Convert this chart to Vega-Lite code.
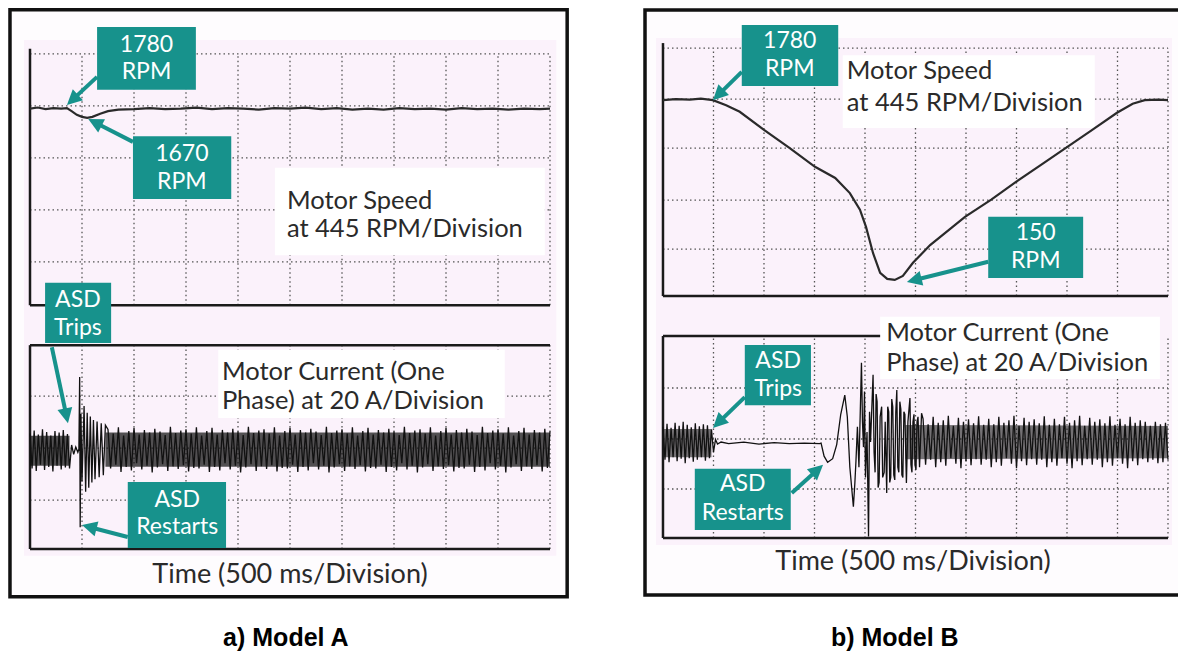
{
"$schema":"https://vega.github.io/schema/vega-lite/v6.json",
"background":"#ffffff",
"padding":0,
"spacing":0,
"config":{"view":{"stroke":null}},
"datasets":{
"leftCurrent":[{"t":0,"v":2.22},{"t":0.04,"v":1.55},{"t":0.08,"v":2.28},{"t":0.12,"v":1.5},{"t":0.16,"v":2.2},{"t":0.2,"v":1.62},{"t":0.24,"v":2.3},{"t":0.28,"v":1.52},{"t":0.32,"v":2.25},{"t":0.36,"v":1.58},{"t":0.4,"v":2.18},{"t":0.44,"v":1.49},{"t":0.48,"v":2.27},{"t":0.52,"v":1.6},{"t":0.56,"v":2.24},{"t":0.6,"v":1.53},{"t":0.64,"v":2.29},{"t":0.68,"v":1.57},{"t":0.72,"v":2.21},{"t":0.76,"v":1.55},{"t":0.8,"v":2.0},{"t":0.84,"v":1.82},{"t":0.88,"v":1.96},{"t":0.92,"v":1.86},{"t":0.94,"v":1.92},{"t":0.955,"v":3.31},{"t":0.965,"v":0.42},{"t":0.98,"v":2.6},{"t":1.0,"v":1.3},{"t":1.04,"v":2.75},{"t":1.07,"v":1.1},{"t":1.1,"v":2.62},{"t":1.13,"v":1.18},{"t":1.16,"v":2.55},{"t":1.19,"v":1.28},{"t":1.22,"v":2.48},{"t":1.25,"v":1.34},{"t":1.29,"v":2.45},{"t":1.33,"v":1.38},{"t":1.37,"v":2.42},{"t":1.41,"v":1.42},{"t":1.45,"v":2.38},
{"t":1.5,"v":2.3},{"t":1.55,"v":1.55},{"t":1.6,"v":2.22},{"t":1.65,"v":1.62},{"t":1.7,"v":2.34},{"t":1.75,"v":1.48},{"t":1.8,"v":2.18},{"t":1.85,"v":1.58},{"t":1.9,"v":2.27},{"t":1.95,"v":1.51},{"t":2.0,"v":2.33},{"t":2.05,"v":1.65},{"t":2.1,"v":2.2},{"t":2.15,"v":1.53},{"t":2.2,"v":2.29},{"t":2.25,"v":1.6},{"t":2.3,"v":2.24},{"t":2.35,"v":1.47},{"t":2.4,"v":2.31},{"t":2.45,"v":1.57},{"t":2.5,"v":2.26},{"t":2.55,"v":1.63},{"t":2.6,"v":2.19},{"t":2.65,"v":1.5},{"t":2.7,"v":2.35},{"t":2.75,"v":1.59},{"t":2.8,"v":2.23},{"t":2.85,"v":1.54},{"t":2.9,"v":2.28},{"t":2.95,"v":1.61},{"t":3.0,"v":2.3},{"t":3.05,"v":1.49},{"t":3.1,"v":2.22},{"t":3.15,"v":1.56},{"t":3.2,"v":2.34},{"t":3.25,"v":1.55},{"t":3.3,"v":2.18},{"t":3.35,"v":1.62},{"t":3.4,"v":2.27},{"t":3.45,"v":1.48},{"t":3.5,"v":2.33},{"t":3.55,"v":1.58},{"t":3.6,"v":2.2},{"t":3.65,"v":1.51},{"t":3.7,"v":2.29},{"t":3.75,"v":1.65},{"t":3.8,"v":2.24},{"t":3.85,"v":1.53},{"t":3.9,"v":2.31},{"t":3.95,"v":1.6},{"t":4.0,"v":2.26},{"t":4.05,"v":1.47},{"t":4.1,"v":2.19},{"t":4.15,"v":1.57},{"t":4.2,"v":2.35},{"t":4.25,"v":1.63},{"t":4.3,"v":2.23},{"t":4.35,"v":1.5},{"t":4.4,"v":2.28},{"t":4.45,"v":1.59},{"t":4.5,"v":2.3},{"t":4.55,"v":1.54},{"t":4.6,"v":2.22},{"t":4.65,"v":1.61},{"t":4.7,"v":2.34},{"t":4.75,"v":1.49},{"t":4.8,"v":2.18},{"t":4.85,"v":1.56},{"t":4.9,"v":2.27},{"t":4.95,"v":1.55},{"t":5.0,"v":2.33},{"t":5.05,"v":1.62},{"t":5.1,"v":2.2},{"t":5.15,"v":1.48},{"t":5.2,"v":2.29},{"t":5.25,"v":1.58},{"t":5.3,"v":2.24},{"t":5.35,"v":1.51},{"t":5.4,"v":2.31},{"t":5.45,"v":1.65},{"t":5.5,"v":2.26},{"t":5.55,"v":1.53},{"t":5.6,"v":2.19},{"t":5.65,"v":1.6},{"t":5.7,"v":2.35},{"t":5.75,"v":1.47},{"t":5.8,"v":2.23},{"t":5.85,"v":1.57},{"t":5.9,"v":2.28},{"t":5.95,"v":1.63},{"t":6.0,"v":2.3},{"t":6.05,"v":1.5},{"t":6.1,"v":2.22},{"t":6.15,"v":1.59},{"t":6.2,"v":2.34},{"t":6.25,"v":1.54},{"t":6.3,"v":2.18},{"t":6.35,"v":1.61},{"t":6.4,"v":2.27},{"t":6.45,"v":1.49},{"t":6.5,"v":2.33},{"t":6.55,"v":1.56},{"t":6.6,"v":2.2},{"t":6.65,"v":1.55},{"t":6.7,"v":2.29},{"t":6.75,"v":1.62},{"t":6.8,"v":2.24},{"t":6.85,"v":1.48},{"t":6.9,"v":2.31},{"t":6.95,"v":1.58},{"t":7.0,"v":2.26},{"t":7.05,"v":1.51},{"t":7.1,"v":2.19},{"t":7.15,"v":1.65},{"t":7.2,"v":2.35},{"t":7.25,"v":1.53},{"t":7.3,"v":2.23},{"t":7.35,"v":1.6},{"t":7.4,"v":2.28},{"t":7.45,"v":1.47},{"t":7.5,"v":2.3},{"t":7.55,"v":1.57},{"t":7.6,"v":2.22},{"t":7.65,"v":1.63},{"t":7.7,"v":2.34},{"t":7.75,"v":1.5},{"t":7.8,"v":2.18},{"t":7.85,"v":1.59},{"t":7.9,"v":2.27},{"t":7.95,"v":1.54},{"t":8.0,"v":2.33},{"t":8.05,"v":1.61},{"t":8.1,"v":2.2},{"t":8.15,"v":1.49},{"t":8.2,"v":2.29},{"t":8.25,"v":1.56},{"t":8.3,"v":2.24},{"t":8.35,"v":1.55},{"t":8.4,"v":2.31},{"t":8.45,"v":1.62},{"t":8.5,"v":2.26},{"t":8.55,"v":1.48},{"t":8.6,"v":2.19},{"t":8.65,"v":1.58},{"t":8.7,"v":2.35},{"t":8.75,"v":1.51},{"t":8.8,"v":2.23},{"t":8.85,"v":1.65},{"t":8.9,"v":2.28},{"t":8.95,"v":1.53},{"t":9.0,"v":2.3},{"t":9.05,"v":1.6},{"t":9.1,"v":2.22},{"t":9.15,"v":1.47},{"t":9.2,"v":2.34},{"t":9.25,"v":1.57},{"t":9.3,"v":2.18},{"t":9.35,"v":1.63},{"t":9.4,"v":2.27},{"t":9.45,"v":1.5},{"t":9.5,"v":2.33},{"t":9.55,"v":1.59},{"t":9.6,"v":2.2},{"t":9.65,"v":1.54},{"t":9.7,"v":2.29},{"t":9.75,"v":1.61},{"t":9.8,"v":2.24},{"t":9.85,"v":1.49},{"t":9.9,"v":2.31},{"t":9.95,"v":1.56},{"t":10.0,"v":2.26}],
"leftSpeed":[{"t":0,"v":8.47},{"t":0.15,"v":8.49},{"t":0.3,"v":8.46},{"t":0.45,"v":8.48},{"t":0.6,"v":8.47},{"t":0.71,"v":8.48},{"t":0.8,"v":8.42},{"t":0.9,"v":8.35},{"t":1.0,"v":8.31},{"t":1.1,"v":8.29},{"t":1.2,"v":8.31},{"t":1.35,"v":8.37},{"t":1.5,"v":8.42},{"t":1.7,"v":8.45},{"t":2.0,"v":8.46},{"t":2.3,"v":8.48},{"t":2.6,"v":8.46},{"t":2.9,"v":8.47},{"t":3.2,"v":8.49},{"t":3.5,"v":8.46},{"t":3.8,"v":8.48},{"t":4.1,"v":8.47},{"t":4.4,"v":8.45},{"t":4.7,"v":8.48},{"t":5.0,"v":8.47},{"t":5.3,"v":8.49},{"t":5.6,"v":8.46},{"t":5.9,"v":8.48},{"t":6.2,"v":8.45},{"t":6.5,"v":8.47},{"t":6.8,"v":8.45},{"t":7.1,"v":8.48},{"t":7.4,"v":8.46},{"t":7.7,"v":8.47},{"t":8.0,"v":8.45},{"t":8.3,"v":8.48},{"t":8.6,"v":8.46},{"t":8.9,"v":8.47},{"t":9.2,"v":8.45},{"t":9.5,"v":8.47},{"t":9.8,"v":8.46},{"t":10.0,"v":8.47}],
"rightCurrent":[{"t":0,"v":2.2},{"t":0.04,"v":1.55},{"t":0.08,"v":2.26},{"t":0.12,"v":1.5},{"t":0.16,"v":2.18},{"t":0.2,"v":1.6},{"t":0.24,"v":2.28},{"t":0.28,"v":1.52},{"t":0.32,"v":2.22},{"t":0.36,"v":1.57},{"t":0.4,"v":2.3},{"t":0.44,"v":1.48},{"t":0.48,"v":2.24},{"t":0.52,"v":1.58},{"t":0.56,"v":2.19},{"t":0.6,"v":1.51},{"t":0.64,"v":2.27},{"t":0.68,"v":1.55},{"t":0.72,"v":2.21},{"t":0.76,"v":1.6},{"t":0.8,"v":2.25},{"t":0.84,"v":1.53},{"t":0.88,"v":2.23},{"t":0.92,"v":1.58},{"t":0.96,"v":2.15},{"t":1.0,"v":1.7},{"t":1.04,"v":1.95},{"t":1.08,"v":1.86},{"t":1.15,"v":1.9},{"t":1.3,"v":1.87},{"t":1.6,"v":1.9},{"t":1.9,"v":1.86},{"t":2.2,"v":1.89},{"t":2.5,"v":1.87},{"t":2.8,"v":1.88},{"t":3.1,"v":1.87},
{"t":3.13,"v":1.88},{"t":3.19,"v":1.62},{"t":3.26,"v":1.5},{"t":3.36,"v":1.57},{"t":3.44,"v":1.85},{"t":3.52,"v":2.45},{"t":3.6,"v":2.83},{"t":3.65,"v":2.4},{"t":3.7,"v":1.4},{"t":3.77,"v":0.62},{"t":3.8,"v":1.1},{"t":3.82,"v":1.5},{"t":3.85,"v":2.2},{"t":3.88,"v":1.4},{"t":3.93,"v":3.47},{"t":3.95,"v":2.3},{"t":3.97,"v":1.8},{"t":3.99,"v":2.9},{"t":4.01,"v":1.2},{"t":4.04,"v":2.1},{"t":4.07,"v":0.03},{"t":4.09,"v":2.5},{"t":4.11,"v":1.9},{"t":4.16,"v":3.23},{"t":4.18,"v":1.7},{"t":4.2,"v":1.3},{"t":4.22,"v":2.85},{"t":4.24,"v":2.7},{"t":4.26,"v":1.0},{"t":4.28,"v":1.1},{"t":4.3,"v":2.4},{"t":4.33,"v":2.6},{"t":4.35,"v":1.2},{"t":4.38,"v":1.3},{"t":4.4,"v":2.3},{"t":4.43,"v":0.89},{"t":4.45,"v":2.6},{"t":4.47,"v":2.5},{"t":4.49,"v":1.1},{"t":4.51,"v":1.2},{"t":4.53,"v":2.75},{"t":4.55,"v":2.6},{"t":4.57,"v":1.25},{"t":4.59,"v":1.15},{"t":4.61,"v":2.5},{"t":4.63,"v":2.93},{"t":4.65,"v":1.4},{"t":4.67,"v":1.3},{"t":4.69,"v":2.7},{"t":4.71,"v":2.55},{"t":4.73,"v":1.25},{"t":4.75,"v":1.2},{"t":4.77,"v":2.5},{"t":4.79,"v":2.45},{"t":4.82,"v":1.09},{"t":4.85,"v":2.3},{"t":4.89,"v":2.77},{"t":4.91,"v":1.45},{"t":4.93,"v":1.3},{"t":4.95,"v":2.3},{"t":4.97,"v":2.45},{"t":4.99,"v":1.45},{"t":5.01,"v":1.35},{"t":5.03,"v":2.3},{"t":5.05,"v":2.4},{"t":5.08,"v":1.4},{"t":5.12,"v":2.47},
{"t":5.15,"v":2.36},{"t":5.2,"v":1.45},{"t":5.25,"v":2.25},{"t":5.3,"v":1.55},{"t":5.35,"v":2.4},{"t":5.4,"v":1.4},{"t":5.45,"v":2.28},{"t":5.5,"v":1.5},{"t":5.55,"v":2.33},{"t":5.6,"v":1.43},{"t":5.65,"v":2.42},{"t":5.7,"v":1.58},{"t":5.75,"v":2.22},{"t":5.8,"v":1.47},{"t":5.85,"v":2.38},{"t":5.9,"v":1.38},{"t":5.95,"v":2.3},{"t":6.0,"v":1.52},{"t":6.05,"v":2.35},{"t":6.1,"v":1.44},{"t":6.15,"v":2.27},{"t":6.2,"v":1.56},{"t":6.25,"v":2.41},{"t":6.3,"v":1.45},{"t":6.35,"v":2.24},{"t":6.4,"v":1.55},{"t":6.45,"v":2.36},{"t":6.5,"v":1.4},{"t":6.55,"v":2.25},{"t":6.6,"v":1.5},{"t":6.65,"v":2.4},{"t":6.7,"v":1.43},{"t":6.75,"v":2.28},{"t":6.8,"v":1.58},{"t":6.85,"v":2.33},{"t":6.9,"v":1.47},{"t":6.95,"v":2.42},{"t":7.0,"v":1.38},{"t":7.05,"v":2.22},{"t":7.1,"v":1.52},{"t":7.15,"v":2.38},{"t":7.2,"v":1.44},{"t":7.25,"v":2.3},{"t":7.3,"v":1.56},{"t":7.35,"v":2.35},{"t":7.4,"v":1.45},{"t":7.45,"v":2.27},{"t":7.5,"v":1.55},{"t":7.55,"v":2.41},{"t":7.6,"v":1.4},{"t":7.65,"v":2.24},{"t":7.7,"v":1.5},{"t":7.75,"v":2.36},{"t":7.8,"v":1.43},{"t":7.85,"v":2.25},{"t":7.9,"v":1.58},{"t":7.95,"v":2.4},{"t":8.0,"v":1.47},{"t":8.05,"v":2.28},{"t":8.1,"v":1.38},{"t":8.15,"v":2.33},{"t":8.2,"v":1.52},{"t":8.25,"v":2.42},{"t":8.3,"v":1.44},{"t":8.35,"v":2.22},{"t":8.4,"v":1.56},{"t":8.45,"v":2.38},{"t":8.5,"v":1.45},{"t":8.55,"v":2.3},{"t":8.6,"v":1.55},{"t":8.65,"v":2.35},{"t":8.7,"v":1.4},{"t":8.75,"v":2.27},{"t":8.8,"v":1.5},{"t":8.85,"v":2.41},{"t":8.9,"v":1.43},{"t":8.95,"v":2.24},{"t":9.0,"v":1.58},{"t":9.05,"v":2.36},{"t":9.1,"v":1.47},{"t":9.15,"v":2.25},{"t":9.2,"v":1.38},{"t":9.25,"v":2.4},{"t":9.3,"v":1.52},{"t":9.35,"v":2.28},{"t":9.4,"v":1.44},{"t":9.45,"v":2.33},{"t":9.5,"v":1.56},{"t":9.55,"v":2.3},{"t":9.6,"v":1.5},{"t":9.65,"v":2.22},{"t":9.7,"v":1.55},{"t":9.75,"v":2.3},{"t":9.8,"v":1.48},{"t":9.85,"v":2.25},{"t":9.9,"v":1.5},{"t":9.95,"v":2.28},{"t":10.0,"v":1.55}],
"rightSpeed":[{"t":0,"v":8.67},{"t":0.25,"v":8.69},{"t":0.53,"v":8.68},{"t":0.75,"v":8.7},{"t":0.99,"v":8.67},{"t":1.25,"v":8.57},{"t":1.52,"v":8.44},{"t":2.0,"v":8.08},{"t":2.51,"v":7.72},{"t":3.01,"v":7.35},{"t":3.41,"v":7.13},{"t":3.7,"v":6.83},{"t":3.9,"v":6.5},{"t":4.02,"v":6.16},{"t":4.16,"v":5.64},{"t":4.3,"v":5.25},{"t":4.44,"v":5.13},{"t":4.59,"v":5.11},{"t":4.75,"v":5.19},{"t":4.95,"v":5.45},{"t":5.29,"v":5.8},{"t":5.98,"v":6.36},{"t":6.5,"v":6.7},{"t":6.99,"v":7.05},{"t":7.5,"v":7.4},{"t":8.0,"v":7.74},{"t":8.5,"v":8.08},{"t":8.99,"v":8.42},{"t":9.3,"v":8.6},{"t":9.54,"v":8.67},{"t":9.8,"v":8.68},{"t":10.0,"v":8.67}]
},
"hconcat":[
{
"width":589,"height":653,
"encoding":{
"x":{"field":"t","type":"quantitative","scale":{"domain":[-0.577,10.75],"nice":false,"zero":false},"axis":null},
"y":{"field":"v","type":"quantitative","scale":{"domain":[-2.0,10.558],"nice":false,"zero":false},"axis":null}
},
"layer":[
{"data":{"values":[{"t":-0.385,"t2":10.33,"v":10.37,"v2":-0.92}]},"mark":{"type":"rect","fill":"#fefcfe","stroke":"#111111","strokeWidth":3.5},"encoding":{"x2":{"field":"t2"},"y2":{"field":"v2"}}},
{"data":{"values":[{"t":-0.115,"t2":10.12,"v":9.79,"v2":-0.13}]},"mark":{"type":"rect","fill":"#fbf2fb"},"encoding":{"x2":{"field":"t2"},"y2":{"field":"v2"}}},
{"data":{"values":[
{"t":1,"t2":1,"v":4.69,"v2":9.52},{"t":2,"t2":2,"v":4.69,"v2":9.52},{"t":3,"t2":3,"v":4.69,"v2":9.52},{"t":4,"t2":4,"v":4.69,"v2":9.52},{"t":5,"t2":5,"v":4.69,"v2":9.52},{"t":6,"t2":6,"v":4.69,"v2":9.52},{"t":7,"t2":7,"v":4.69,"v2":9.52},{"t":8,"t2":8,"v":4.69,"v2":9.52},{"t":9,"t2":9,"v":4.69,"v2":9.52},{"t":10,"t2":10,"v":4.69,"v2":9.52},
{"t":1,"t2":1,"v":0,"v2":3.92},{"t":2,"t2":2,"v":0,"v2":3.92},{"t":3,"t2":3,"v":0,"v2":3.92},{"t":4,"t2":4,"v":0,"v2":3.92},{"t":5,"t2":5,"v":0,"v2":3.92},{"t":6,"t2":6,"v":0,"v2":3.92},{"t":7,"t2":7,"v":0,"v2":3.92},{"t":8,"t2":8,"v":0,"v2":3.92},{"t":9,"t2":9,"v":0,"v2":3.92},{"t":10,"t2":10,"v":0,"v2":3.92},
{"t":0,"t2":10,"v":5.52,"v2":5.52},{"t":0,"t2":10,"v":6.52,"v2":6.52},{"t":0,"t2":10,"v":7.52,"v2":7.52},{"t":0,"t2":10,"v":8.52,"v2":8.52},{"t":0,"t2":10,"v":9.52,"v2":9.52},
{"t":0,"t2":10,"v":0.94,"v2":0.94},{"t":0,"t2":10,"v":1.94,"v2":1.94},{"t":0,"t2":10,"v":2.94,"v2":2.94}
]},"mark":{"type":"rule","stroke":"#555555","strokeWidth":1.3,"strokeDash":[1.5,3]},"encoding":{"x2":{"field":"t2"},"y2":{"field":"v2"}}},
{"data":{"values":[{"t":4.71,"t2":9.9,"v":7.33,"v2":5.65},{"t":3.62,"t2":9.13,"v":3.83,"v2":2.52}]},"mark":{"type":"rect","fill":"#ffffff"},"encoding":{"x2":{"field":"t2"},"y2":{"field":"v2"}}},
{"data":{"values":[{"t":0,"t2":0,"v":4.69,"v2":9.62},{"t":0,"t2":10,"v":4.69,"v2":4.69},{"t":0,"t2":10,"v":3.92,"v2":3.92},{"t":0,"t2":0,"v":0,"v2":3.92},{"t":0,"t2":10,"v":0,"v2":0}]},"mark":{"type":"rule","stroke":"#1a1a1a","strokeWidth":2.5},"encoding":{"x2":{"field":"t2"},"y2":{"field":"v2"}}},
{"data":{"values":[{"seg":"a","t":0,"lo":1.6,"hi":2.18},{"seg":"a","t":0.76,"lo":1.6,"hi":2.18},{"seg":"b","t":1.45,"lo":1.58,"hi":2.24},{"seg":"b","t":10,"lo":1.58,"hi":2.24}]},"mark":{"type":"area","fill":"#111111","opacity":0.72},"encoding":{"y":{"field":"hi","type":"quantitative","stack":null,"scale":{"domain":[-2.0,10.558],"nice":false,"zero":false},"axis":null},"y2":{"field":"lo"},"detail":{"field":"seg"}}},
{"data":{"name":"leftCurrent"},"mark":{"type":"line","stroke":"#111111","strokeWidth":1.3}},
{"data":{"name":"leftSpeed"},"mark":{"type":"line","stroke":"#2a2a2a","strokeWidth":2.2}},
{"data":{"values":[{"t":1.29,"t2":3.19,"v":10.04,"v2":8.83},{"t":1.98,"t2":3.87,"v":7.94,"v2":6.73},{"t":0.29,"t2":1.56,"v":5.12,"v2":3.96},{"t":1.88,"t2":3.77,"v":1.29,"v2":0.02}]},"mark":{"type":"rect","fill":"#17928c"},"encoding":{"x2":{"field":"t2"},"y2":{"field":"v2"}}},
{"data":{"values":[{"t":1.29,"v":9.08,"t2":0.71,"v2":8.54},{"t":1.98,"v":7.83,"t2":1.12,"v2":8.27},{"t":0.42,"v":3.88,"t2":0.73,"v2":2.42},{"t":1.88,"v":0.23,"t2":1.0,"v2":0.46}]},
"transform":[{"calculate":"sqrt(pow(datum.t2-datum.t,2)+pow(datum.v2-datum.v,2))","as":"len"},{"calculate":"datum.t2-(datum.t2-datum.t)/datum.len*0.2","as":"te"},{"calculate":"datum.v2-(datum.v2-datum.v)/datum.len*0.2","as":"ve"},{"calculate":"atan2(datum.t2-datum.t,datum.v2-datum.v)*180/PI","as":"ang"}],
"layer":[
{"mark":{"type":"rule","stroke":"#17928c","strokeWidth":4},"encoding":{"x2":{"field":"te"},"y2":{"field":"ve"}}},
{"mark":{"type":"point","shape":"M0,0L0.5,1L-0.5,1Z","filled":true,"fill":"#17928c","opacity":1,"size":900},"encoding":{"x":{"field":"t2","type":"quantitative","scale":{"domain":[-0.577,10.75],"nice":false,"zero":false},"axis":null},"y":{"field":"v2","type":"quantitative","scale":{"domain":[-2.0,10.558],"nice":false,"zero":false},"axis":null},"angle":{"field":"ang","type":"quantitative","scale":null}}}
]},
{"data":{"values":[{"t":2.24,"v":9.7,"label":"1780"},{"t":2.24,"v":9.17,"label":"RPM"},{"t":2.92,"v":7.59,"label":"1670"},{"t":2.92,"v":7.06,"label":"RPM"},{"t":0.92,"v":4.79,"label":"ASD"},{"t":0.92,"v":4.25,"label":"Trips"},{"t":2.83,"v":0.95,"label":"ASD"},{"t":2.83,"v":0.42,"label":"Restarts"}]},"mark":{"type":"text","font":"Lato","fontSize":23,"fill":"#ffffff","align":"center","baseline":"middle"},"encoding":{"text":{"field":"label"}}},
{"data":{"values":[{"t":4.94,"v":6.7,"label":"Motor Speed"},{"t":4.94,"v":6.15,"label":"at 445 RPM/Division"},{"t":3.69,"v":3.41,"label":"Motor Current (One"},{"t":3.69,"v":2.84,"label":"Phase) at 20 A/Division"}]},"mark":{"type":"text","font":"Lato","fontSize":25.5,"fill":"#2a2a2a","align":"left","baseline":"middle"},"encoding":{"text":{"field":"label"}}},
{"data":{"values":[{"t":5.0,"v":-0.5,"label":"Time (500 ms/Division)"}]},"mark":{"type":"text","font":"Lato","fontSize":27,"fill":"#2a2a2a","align":"center","baseline":"middle"},"encoding":{"text":{"field":"label"}}},
{"data":{"values":[{"t":4.92,"v":-1.71,"label":"a) Model A"}]},"mark":{"type":"text","font":"Liberation Sans","fontWeight":"bold","fontSize":25,"fill":"#000000","align":"center","baseline":"middle"},"encoding":{"text":{"field":"label"}}}
]
},
{
"width":589,"height":653,
"encoding":{
"x":{"field":"t","type":"quantitative","scale":{"domain":[-1.465,10.198],"nice":false,"zero":false},"axis":null},
"y":{"field":"v","type":"quantitative","scale":{"domain":[-2.277,10.653],"nice":false,"zero":false},"axis":null}
},
"layer":[
{"data":{"values":[{"t":-0.356,"t2":10.5,"v":10.455,"v2":-1.129}]},"mark":{"type":"rect","fill":"#fefcfe","stroke":"#111111","strokeWidth":3.5,"clip":true},"encoding":{"x2":{"field":"t2"},"y2":{"field":"v2"}}},
{"data":{"values":[{"t":-0.139,"t2":10.08,"v":9.9,"v2":-0.139}]},"mark":{"type":"rect","fill":"#fbf2fb"},"encoding":{"x2":{"field":"t2"},"y2":{"field":"v2"}}},
{"data":{"values":[
{"t":1,"t2":1,"v":4.79,"v2":9.7},{"t":2,"t2":2,"v":4.79,"v2":9.7},{"t":3,"t2":3,"v":4.79,"v2":9.7},{"t":4,"t2":4,"v":4.79,"v2":9.7},{"t":5,"t2":5,"v":4.79,"v2":9.7},{"t":6,"t2":6,"v":4.79,"v2":9.7},{"t":7,"t2":7,"v":4.79,"v2":9.7},{"t":8,"t2":8,"v":4.79,"v2":9.7},{"t":9,"t2":9,"v":4.79,"v2":9.7},{"t":10,"t2":10,"v":4.79,"v2":9.7},
{"t":1,"t2":1,"v":0,"v2":4.0},{"t":2,"t2":2,"v":0,"v2":4.0},{"t":3,"t2":3,"v":0,"v2":4.0},{"t":4,"t2":4,"v":0,"v2":4.0},{"t":5,"t2":5,"v":0,"v2":4.0},{"t":6,"t2":6,"v":0,"v2":4.0},{"t":7,"t2":7,"v":0,"v2":4.0},{"t":8,"t2":8,"v":0,"v2":4.0},{"t":9,"t2":9,"v":0,"v2":4.0},{"t":10,"t2":10,"v":0,"v2":4.0},
{"t":0,"t2":10,"v":5.72,"v2":5.72},{"t":0,"t2":10,"v":6.69,"v2":6.69},{"t":0,"t2":10,"v":7.72,"v2":7.72},{"t":0,"t2":10,"v":8.69,"v2":8.69},{"t":0,"t2":10,"v":9.7,"v2":9.7},
{"t":0,"t2":10,"v":0.97,"v2":0.97},{"t":0,"t2":10,"v":1.96,"v2":1.96},{"t":0,"t2":10,"v":2.97,"v2":2.97}
]},"mark":{"type":"rule","stroke":"#555555","strokeWidth":1.3,"strokeDash":[1.5,3]},"encoding":{"x2":{"field":"t2"},"y2":{"field":"v2"}}},
{"data":{"values":[{"t":3.56,"t2":8.55,"v":9.56,"v2":8.12},{"t":4.3,"t2":9.84,"v":4.38,"v2":3.15}]},"mark":{"type":"rect","fill":"#ffffff"},"encoding":{"x2":{"field":"t2"},"y2":{"field":"v2"}}},
{"data":{"values":[{"t":0,"t2":0,"v":4.79,"v2":9.8},{"t":0,"t2":10,"v":4.79,"v2":4.79},{"t":0,"t2":4.3,"v":4.0,"v2":4.0},{"t":0,"t2":0,"v":0,"v2":4.0},{"t":0,"t2":10,"v":0,"v2":0}]},"mark":{"type":"rule","stroke":"#1a1a1a","strokeWidth":2.5},"encoding":{"x2":{"field":"t2"},"y2":{"field":"v2"}}},
{"data":{"values":[{"seg":"a","t":0,"lo":1.6,"hi":2.16},{"seg":"a","t":0.96,"lo":1.6,"hi":2.16},{"seg":"b","t":4.8,"lo":1.56,"hi":2.24},{"seg":"b","t":10,"lo":1.58,"hi":2.22}]},"mark":{"type":"area","fill":"#1a1a1a","opacity":0.6},"encoding":{"y":{"field":"hi","type":"quantitative","stack":null,"scale":{"domain":[-2.277,10.653],"nice":false,"zero":false},"axis":null},"y2":{"field":"lo"},"detail":{"field":"seg"}}},
{"data":{"name":"rightCurrent"},"mark":{"type":"line","stroke":"#111111","strokeWidth":1.3}},
{"data":{"name":"rightSpeed"},"mark":{"type":"line","stroke":"#2a2a2a","strokeWidth":2.2}},
{"data":{"values":[{"t":1.56,"t2":3.47,"v":10.16,"v2":8.95},{"t":6.44,"t2":8.32,"v":6.36,"v2":5.15},{"t":1.62,"t2":2.93,"v":3.82,"v2":2.63},{"t":0.63,"t2":2.53,"v":1.37,"v2":0.16}]},"mark":{"type":"rect","fill":"#17928c"},"encoding":{"x2":{"field":"t2"},"y2":{"field":"v2"}}},
{"data":{"values":[{"t":1.56,"v":9.23,"t2":0.99,"v2":8.67},{"t":6.44,"v":5.47,"t2":4.83,"v2":5.07},{"t":1.62,"v":2.79,"t2":0.99,"v2":2.18},{"t":2.55,"v":0.89,"t2":3.17,"v2":1.45}]},
"transform":[{"calculate":"sqrt(pow(datum.t2-datum.t,2)+pow(datum.v2-datum.v,2))","as":"len"},{"calculate":"datum.t2-(datum.t2-datum.t)/datum.len*0.2","as":"te"},{"calculate":"datum.v2-(datum.v2-datum.v)/datum.len*0.2","as":"ve"},{"calculate":"atan2(datum.t2-datum.t,datum.v2-datum.v)*180/PI","as":"ang"}],
"layer":[
{"mark":{"type":"rule","stroke":"#17928c","strokeWidth":4},"encoding":{"x2":{"field":"te"},"y2":{"field":"ve"}}},
{"mark":{"type":"point","shape":"M0,0L0.5,1L-0.5,1Z","filled":true,"fill":"#17928c","opacity":1,"size":900},"encoding":{"x":{"field":"t2","type":"quantitative","scale":{"domain":[-1.465,10.198],"nice":false,"zero":false},"axis":null},"y":{"field":"v2","type":"quantitative","scale":{"domain":[-2.277,10.653],"nice":false,"zero":false},"axis":null},"angle":{"field":"ang","type":"quantitative","scale":null}}}
]},
{"data":{"values":[{"t":2.51,"v":9.84,"label":"1780"},{"t":2.51,"v":9.29,"label":"RPM"},{"t":7.38,"v":6.03,"label":"150"},{"t":7.38,"v":5.48,"label":"RPM"},{"t":2.28,"v":3.51,"label":"ASD"},{"t":2.28,"v":2.96,"label":"Trips"},{"t":1.58,"v":1.06,"label":"ASD"},{"t":1.58,"v":0.5,"label":"Restarts"}]},"mark":{"type":"text","font":"Lato","fontSize":23,"fill":"#ffffff","align":"center","baseline":"middle"},"encoding":{"text":{"field":"label"}}},
{"data":{"values":[{"t":3.64,"v":9.24,"label":"Motor Speed"},{"t":3.64,"v":8.62,"label":"at 445 RPM/Division"},{"t":4.42,"v":4.05,"label":"Motor Current (One"},{"t":4.42,"v":3.47,"label":"Phase) at 20 A/Division"}]},"mark":{"type":"text","font":"Lato","fontSize":25.5,"fill":"#2a2a2a","align":"left","baseline":"middle"},"encoding":{"text":{"field":"label"}}},
{"data":{"values":[{"t":4.95,"v":-0.475,"label":"Time (500 ms/Division)"}]},"mark":{"type":"text","font":"Lato","fontSize":27,"fill":"#2a2a2a","align":"center","baseline":"middle"},"encoding":{"text":{"field":"label"}}},
{"data":{"values":[{"t":4.59,"v":-1.98,"label":"b) Model B"}]},"mark":{"type":"text","font":"Liberation Sans","fontWeight":"bold","fontSize":25,"fill":"#000000","align":"center","baseline":"middle"},"encoding":{"text":{"field":"label"}}}
]
}
]
}
